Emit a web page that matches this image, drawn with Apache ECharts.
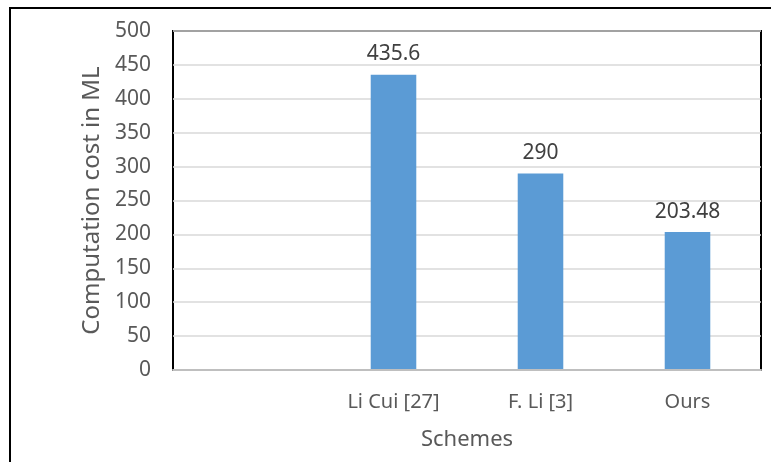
<!DOCTYPE html>
<html>
<head>
<meta charset="utf-8">
<script src="https://cdn.jsdelivr.net/npm/echarts@6/dist/echarts.min.js"></script>
<style>
  html, body { margin: 0; padding: 0; background: #fff; }
  #chart { width: 771px; height: 462px; }
</style>
</head>
<body>
<div id="chart"></div>
<script>
// data
var categories = ['', 'Li Cui [27]', 'F. Li [3]', 'Ours'];
var costValues = [null, 435.6, 290, 203.48];
var yTicks = { min: 0, max: 500, interval: 50 };

var textFont = 'Noto Sans';

var myChart = echarts.init(document.getElementById('chart'));
var option = {
  animation: false,
  backgroundColor: '#ffffff',
  graphic: [{
    type: 'rect',
    shape: { x: 10, y: 8, width: 780, height: 480 },
    style: { fill: 'none', stroke: '#000', lineWidth: 2 },
    silent: true
  }],
  grid: {
    left: 173, right: 10, top: 31, bottom: 92,
    show: true,
    borderColor: '#000',
    borderWidth: 2
  },
  xAxis: {
    type: 'category',
    data: categories,
    name: 'Schemes',
    nameLocation: 'middle',
    nameGap: 59,
    nameTextStyle: { fontFamily: textFont, fontSize: 22, color: '#595959' },
    axisLine: { lineStyle: { color: '#bfbfbf', width: 2 } },
    axisTick: { show: false },
    axisLabel: { fontFamily: textFont, fontSize: 20, color: '#595959', margin: 22 },
    z: 5
  },
  yAxis: {
    type: 'value',
    min: yTicks.min,
    max: yTicks.max,
    interval: yTicks.interval,
    name: 'Computation cost in ML',
    nameLocation: 'middle',
    nameGap: 63,
    nameTextStyle: { fontFamily: textFont, fontSize: 24, color: '#595959' },
    axisLine: { show: false },
    axisTick: { show: false },
    axisLabel: { fontFamily: textFont, fontSize: 21, color: '#595959', margin: 22 },
    splitLine: { lineStyle: { color: '#d9d9d9', width: 1.5 } }
  },
  series: [{
    type: 'bar',
    data: costValues,
    barWidth: '31%',
    itemStyle: { color: '#5b9bd5' },
    label: {
      show: true,
      position: 'top',
      distance: 10,
      fontFamily: textFont,
      fontSize: 21,
      color: '#404040'
    }
  }]
};
myChart.setOption(option);
</script>
</body>
</html>
